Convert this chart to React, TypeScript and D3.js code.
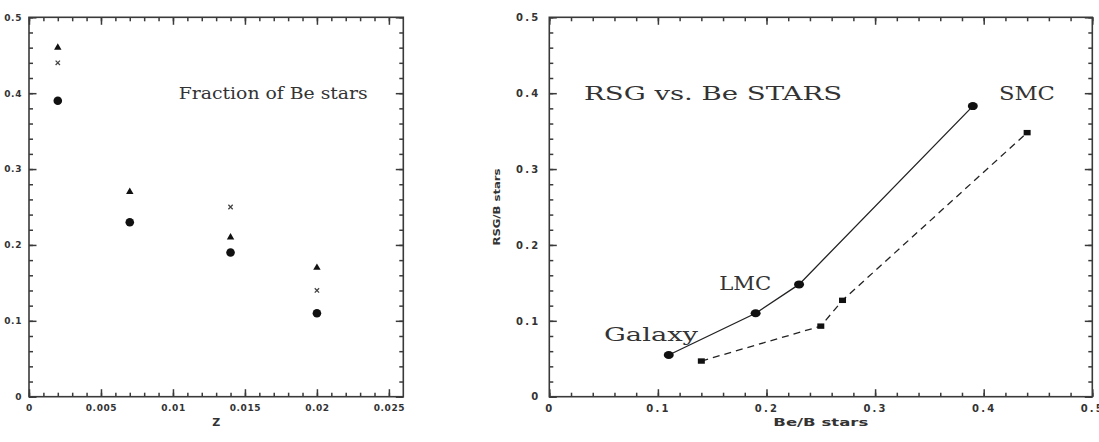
import * as d3 from 'd3';
import { useEffect, useRef } from 'react';

// left panel: fraction of Be stars vs Z
const zVals = [0.002, 0.007, 0.014, 0.02];
const triFrac = [0.46, 0.27, 0.21, 0.17];
const circFrac = [0.39, 0.23, 0.19, 0.11];
const crossZ = [0.002, 0.014, 0.02];
const crossFrac = [0.44, 0.25, 0.14];

const leftXTicks = [0, 0.005, 0.01, 0.015, 0.02, 0.025];
const leftXMinor = d3.range(0, 26).map(i => i / 1000);
const yTicks = [0, 0.1, 0.2, 0.3, 0.4, 0.5];
const yMinor = d3.range(0, 26).map(i => i / 50);

// right panel: RSG/B vs Be/B
const beSolid = [0.11, 0.19, 0.23, 0.39];
const rsgSolid = [0.055, 0.11, 0.148, 0.383];
const beDashed = [0.14, 0.25, 0.27, 0.44];
const rsgDashed = [0.047, 0.093, 0.127, 0.348];

const rightXTicks = [0, 0.1, 0.2, 0.3, 0.4, 0.5];
const rightXMinor = d3.range(0, 26).map(i => i / 50);

const frameColor = '#3a3a3a';
const inkColor = '#111';
const textColor = '#333';

function App() {
    const ref = useRef<SVGSVGElement>(null);

    useEffect(() => {
        const svg = d3.select(ref.current);
        svg.selectAll('*').remove();

        const top = 17.3, bottom = 396.7;

        const drawAxes = (g: any, x: any, y: any, xt: number[], xm: number[], pad: number, spacing: number, fs: number) => {
            const w = x.range()[1] - x.range()[0];
            const h = bottom - top;
            const fmt = (d: any) => String(d);
            const style = (sel: any) => {
                sel.select('.domain').remove();
                sel.selectAll('line').attr('stroke', frameColor).attr('stroke-width', 1.5);
                sel.selectAll('text')
                    .attr('fill', textColor)
                    .attr('font-family', 'DejaVu Sans')
                    .attr('font-weight', 'bold')
                    .attr('font-size', fs)
                    .attr('letter-spacing', spacing);
            };
            g.append('g').attr('transform', `translate(0,${bottom})`)
                .call(d3.axisBottom(x).tickValues(xm).tickSize(-4).tickFormat(() => '')).call(style);
            g.append('g').attr('transform', `translate(0,${bottom})`)
                .call(d3.axisBottom(x).tickValues(xt).tickSize(-7.5).tickPadding(8).tickFormat(fmt)).call(style);
            g.append('g').attr('transform', `translate(0,${top})`)
                .call(d3.axisTop(x).tickValues(xm).tickSize(-4).tickFormat(() => '')).call(style);
            g.append('g').attr('transform', `translate(0,${top})`)
                .call(d3.axisTop(x).tickValues(xt).tickSize(-7.5).tickFormat(() => '')).call(style);
            const x0 = x.range()[0], x1 = x.range()[1];
            g.append('g').attr('transform', `translate(${x0},0)`)
                .call(d3.axisLeft(y).tickValues(yMinor).tickSize(-4).tickFormat(() => '')).call(style);
            g.append('g').attr('transform', `translate(${x0},0)`)
                .call(d3.axisLeft(y).tickValues(yTicks).tickSize(-7.5).tickPadding(pad).tickFormat(fmt)).call(style);
            g.append('g').attr('transform', `translate(${x1},0)`)
                .call(d3.axisRight(y).tickValues(yMinor).tickSize(-4).tickFormat(() => '')).call(style);
            g.append('g').attr('transform', `translate(${x1},0)`)
                .call(d3.axisRight(y).tickValues(yTicks).tickSize(-7.5).tickFormat(() => '')).call(style);
            g.append('rect')
                .attr('x', x0).attr('y', top).attr('width', w).attr('height', h)
                .attr('fill', 'none').attr('stroke', frameColor).attr('stroke-width', 1.6);
        };

        const serif = (sel: any, size: number, len: number) => sel
            .attr('font-family', 'DejaVu Serif')
            .attr('font-size', size)
            .attr('fill', textColor)
            .attr('textLength', len)
            .attr('lengthAdjust', 'spacingAndGlyphs');

        // ---- left panel
        const xL = d3.scaleLinear().domain([0, 0.026]).range([29, 403.3]);
        const yS = d3.scaleLinear().domain([0, 0.5]).range([bottom, top]);
        const gL = svg.append('g');
        drawAxes(gL, xL, yS, leftXTicks, leftXMinor, 7, 0.6, 9);

        gL.selectAll('path.tri').data(zVals).enter().append('path')
            .attr('d', d3.symbol(d3.symbolTriangle, 24))
            .attr('transform', (d, i) => `translate(${xL(d)},${yS(triFrac[i])})`)
            .attr('fill', inkColor);
        gL.selectAll('path.cross').data(crossZ).enter().append('path')
            .attr('d', d3.symbol(d3.symbolTimes, 14))
            .attr('transform', (d, i) => `translate(${xL(d)},${yS(crossFrac[i])})`)
            .attr('fill', 'none').attr('stroke', '#444').attr('stroke-width', 1.3);
        gL.selectAll('circle.dot').data(zVals).enter().append('circle')
            .attr('cx', d => xL(d)).attr('cy', (d, i) => yS(circFrac[i]))
            .attr('r', 4.3).attr('fill', inkColor);

        gL.append('text').attr('x', xL(0.0104)).attr('y', yS(0.392))
            .text('Fraction of Be stars').call(serif, 16.5, 189);
        gL.append('text').attr('x', (xL.range()[0] + xL.range()[1]) / 2).attr('y', 426)
            .attr('text-anchor', 'middle').attr('font-family', 'DejaVu Sans').attr('font-weight', 'bold')
            .attr('font-size', 11).attr('fill', textColor).text('Z');

        // ---- right panel
        const xR = d3.scaleLinear().domain([0, 0.5]).range([549.3, 1092.3]);
        const gR = svg.append('g');
        drawAxes(gR, xR, yS, rightXTicks, rightXMinor, 9, 2.2, 10);

        gR.append('path')
            .attr('d', d3.line<number>().x(d => xR(d)).y((d, i) => yS(rsgSolid[i]))(beSolid))
            .attr('fill', 'none').attr('stroke', '#222').attr('stroke-width', 1.3);
        gR.append('path')
            .attr('d', d3.line<number>().x(d => xR(d)).y((d, i) => yS(rsgDashed[i]))(beDashed))
            .attr('fill', 'none').attr('stroke', '#222').attr('stroke-width', 1.3)
            .attr('stroke-dasharray', '7,5');
        gR.selectAll('ellipse.dot').data(beSolid).enter().append('ellipse')
            .attr('cx', d => xR(d)).attr('cy', (d, i) => yS(rsgSolid[i]))
            .attr('rx', 5).attr('ry', 4).attr('fill', inkColor);
        gR.selectAll('rect.sq').data(beDashed).enter().append('rect')
            .attr('x', d => xR(d) - 3.5).attr('y', (d, i) => yS(rsgDashed[i]) - 2.7)
            .attr('width', 7).attr('height', 5.4).attr('fill', inkColor);

        gR.append('text').attr('x', xR(0.032)).attr('y', yS(0.391))
            .text('RSG vs. Be STARS').call(serif, 19, 258);
        gR.append('text').attr('x', xR(0.414)).attr('y', yS(0.391))
            .text('SMC').call(serif, 19, 56);
        gR.append('text').attr('x', xR(0.1565)).attr('y', yS(0.1406))
            .text('LMC').call(serif, 19, 52);
        gR.append('text').attr('x', xR(0.0504)).attr('y', yS(0.0738))
            .text('Galaxy').call(serif, 18, 94);

        gR.append('text').attr('x', (xR.range()[0] + xR.range()[1]) / 2).attr('y', 426)
            .attr('text-anchor', 'middle').attr('font-family', 'DejaVu Sans').attr('font-weight', 'bold')
            .attr('font-size', 10).attr('fill', textColor)
            .attr('textLength', 95).attr('lengthAdjust', 'spacingAndGlyphs')
            .text('Be/B stars');
        gR.append('text')
            .attr('transform', `translate(500,${(top + bottom) / 2}) rotate(-90)`)
            .attr('text-anchor', 'middle').attr('font-family', 'DejaVu Sans').attr('font-weight', 'bold')
            .attr('font-size', 9).attr('fill', textColor)
            .attr('textLength', 77).attr('lengthAdjust', 'spacingAndGlyphs')
            .text('RSG/B stars');
    }, []);

    return (
        <svg ref={ref} width={1099} height={442}
            style={{ position: 'absolute', left: 0, top: 0, background: '#fff' }} />
    );
}

export default App;
